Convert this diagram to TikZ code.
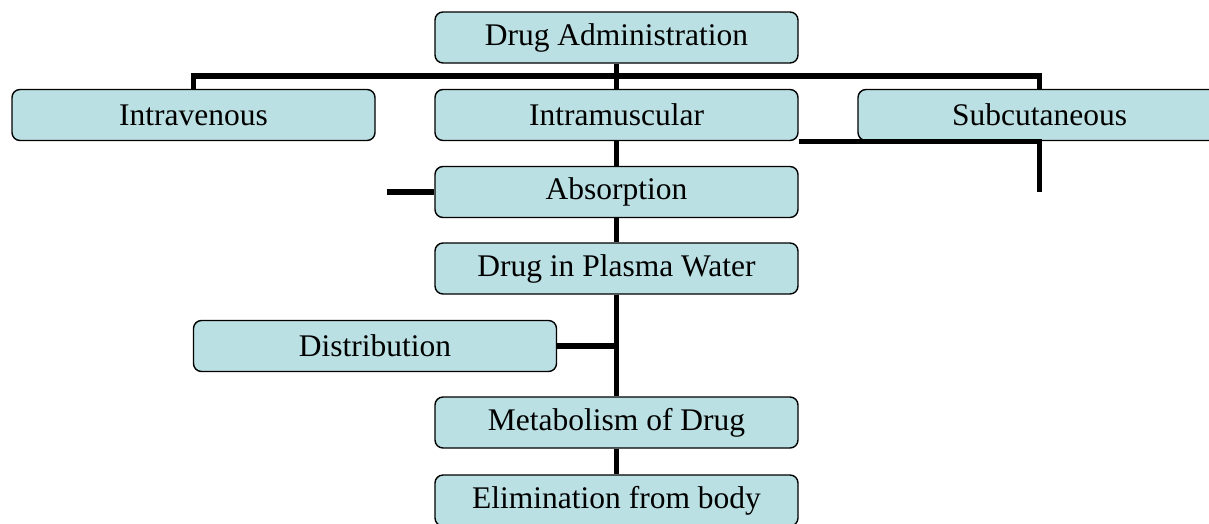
\documentclass[tikz,border=0pt]{standalone}
\usepackage{fontspec}
\setmainfont{Liberation Serif}
\usepackage{tikz}
\definecolor{boxfill}{RGB}{186,224,227}

\begin{document}
\begin{tikzpicture}[x=1pt, y=-1pt,
    stage/.style={draw=black, line width=1.4pt, fill=boxfill, rounded corners=8pt,
                  minimum width=363pt, minimum height=51pt, inner sep=0pt,
                  font=\fontsize{31.5}{36}\selectfont},
    link/.style={line width=5.2pt}]

  \useasboundingbox (0,0) rectangle (1209,523);

  \node[stage] (admin)   at (616.5, 37.5) {Drug Administration};

  \node[stage] (iv)      at (193.5, 115)  {Intravenous};
  \node[stage] (im)      at (616.5, 115)  {Intramuscular};
  \node[stage] (sc)      at (1039.5, 115) {Subcutaneous};

  \node[stage] (absorb)  at (616.5, 192)  {Absorption};
  \node[stage] (plasma)  at (616.5, 268.5) {Drug in Plasma Water};
  \node[stage] (distrib) at (375, 346)    {Distribution};
  \node[stage] (metab)   at (616.5, 422.5) {Metabolism of Drug};
  \node[stage] (elim)    at (616.5, 500.5) {Elimination from body};

  \coordinate (bus)    at (616.5, 76);
  \coordinate (ivstub) at (387, 192);
  \coordinate (scstub) at (1039.5, 192);

  \draw[link] (admin.south) -- (im.north); %% admin->im
  \draw[link] (iv.north) |- (bus) -| (sc.north); %% iv, sc
  \draw[link] (im.south) -- (absorb.north); %% im->absorb
  \draw[link] ([yshift=-0.5pt]im.south east) -| (scstub); %% sc stub
  \draw[link] (ivstub) -- (absorb.west); %% iv stub
  \draw[link] (absorb.south) -- (plasma.north); %% absorb->plasma
  \draw[link] (plasma.south) -- (metab.north); %% plasma->metab
  \draw[link] (distrib.east) -- (plasma.south |- distrib.east); %% distrib
  \draw[link] (metab.south) -- (elim.north); %% metab->elim

\end{tikzpicture}
\end{document}
